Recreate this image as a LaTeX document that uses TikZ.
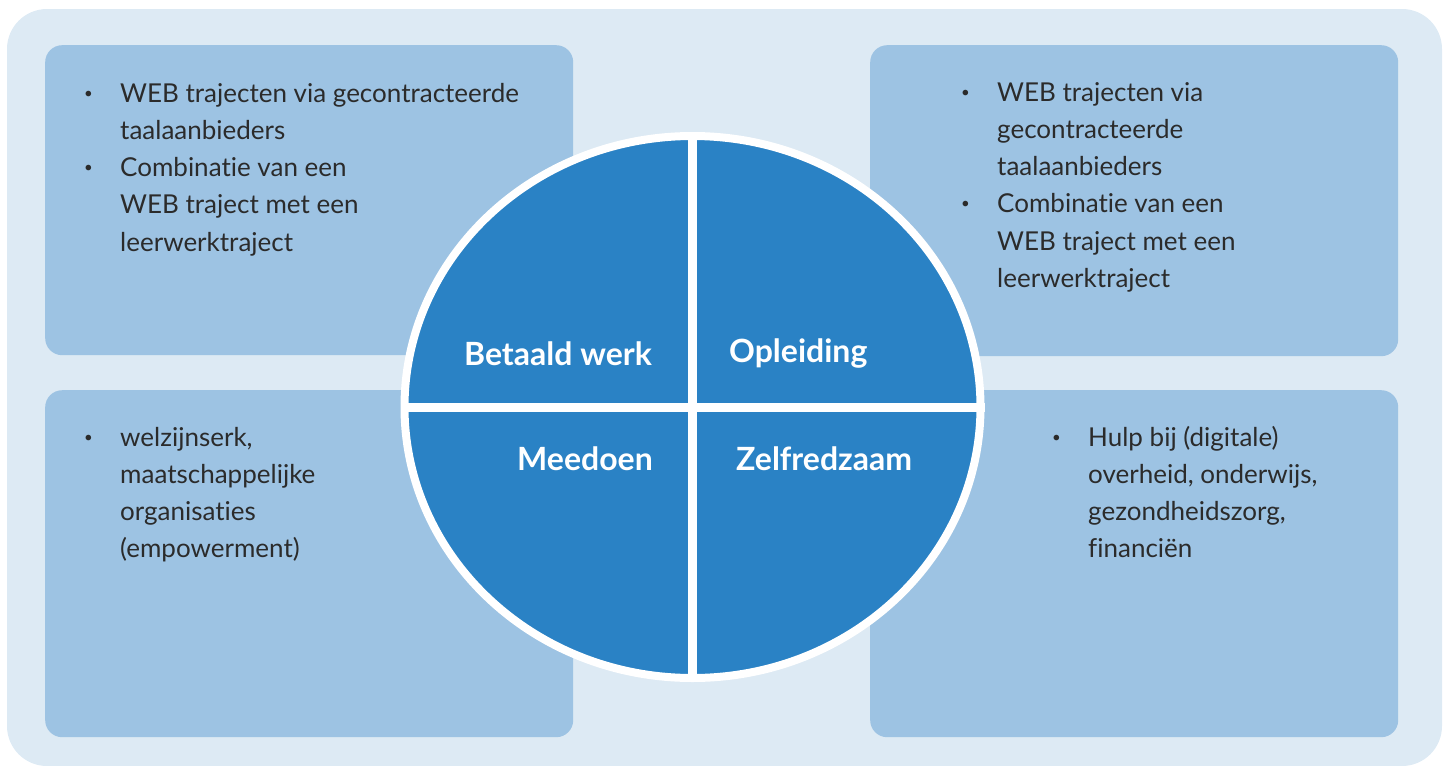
\documentclass[tikz,border=0pt]{standalone}
\usepackage{fontspec}
\setmainfont{Lato}[Ligatures=NoCommon]
\usetikzlibrary{shapes.geometric, positioning}
\definecolor{bgblue}{HTML}{DDEAF4}
\definecolor{boxblue}{HTML}{9DC3E3}
\definecolor{wheelblue}{HTML}{2A82C5}
\definecolor{txtgray}{HTML}{2B2B2B}
\newcommand{\bul}{{\fontsize{15}{15}\selectfont\raisebox{4pt}{\textbullet}}}

\begin{document}
\begin{tikzpicture}[x=1pt, y=-1pt,
    panel/.style={fill=boxblue, rounded corners=17pt, inner sep=0pt, anchor=north west},
    listtext/.style={inner sep=0pt, anchor=base west, text=txtgray, font=\fontsize{26}{37.3}\selectfont},
    quarter/.style={inner sep=0pt, anchor=base west, text=white, font=\fontsize{32}{36}\selectfont\bfseries}]
    \useasboundingbox (0,0) rectangle (1449,766);
    \fill[bgblue, rounded corners=40pt] (7,9) rectangle (1442,766);
    % four panels
    \node[panel, minimum width=528pt, minimum height=310pt] (tl) at (45,45) {};
    \node[panel, minimum width=528pt, minimum height=311pt] (tr) at (870,45) {};
    \node[panel, minimum width=528pt, minimum height=347pt] (bl) at (45,390) {};
    \node[panel, minimum width=528pt, minimum height=347pt] (br) at (870,390) {};
    % panel texts
    \node[listtext] (tltext) at (84,102) {\begin{tabular}[t]{@{}p{36pt}@{}l@{}}
        \bul & WEB trajecten via gecontracteerde\\
             & taalaanbieders\\
        \bul & Combinatie van een\\
             & WEB traject met een\\
             & leerwerktraject
        \end{tabular}};
    \node[listtext] (trtext) at (961,101) {\begin{tabular}[t]{@{}p{36pt}@{}l@{}}
        \bul & WEB trajecten via\\
             & gecontracteerde\\
             & taalaanbieders\\
        \bul & Combinatie van een\\
             & WEB traject met een\\
             & leerwerktraject
        \end{tabular}};
    \node[listtext] (bltext) at (84,446) {\begin{tabular}[t]{@{}p{36pt}@{}l@{}}
        \bul & welzijnserk,\\
             & maatschappelijke\\
             & organisaties\\
             & (empowerment)
        \end{tabular}};
    \node[listtext] (brtext) at (1052,446) {\begin{tabular}[t]{@{}p{36pt}@{}l@{}}
        \bul & Hulp bij (digitale)\\
             & overheid, onderwijs,\\
             & gezondheidszorg,\\
             & financiën
        \end{tabular}};
    % the wheel
    \node[ellipse, draw=white, line width=8pt, fill=wheelblue, inner sep=0pt,
          minimum width=576pt, minimum height=542pt] (wheel) at (692.5,407) {};
    \draw[white, line width=9pt] (wheel.north) -- (wheel.south);
    \draw[white, line width=9pt] (wheel.west) -- (wheel.east);
    \node[quarter] (werk) at (464,365) {Betaald werk};
    \node[quarter] (opleiding) at (729,362) {Opleiding};
    \node[quarter] (meedoen) at (517,470) {Meedoen};
    \node[quarter] (zelf) at (736,470) {Zelfredzaam};
\end{tikzpicture}
\end{document}
